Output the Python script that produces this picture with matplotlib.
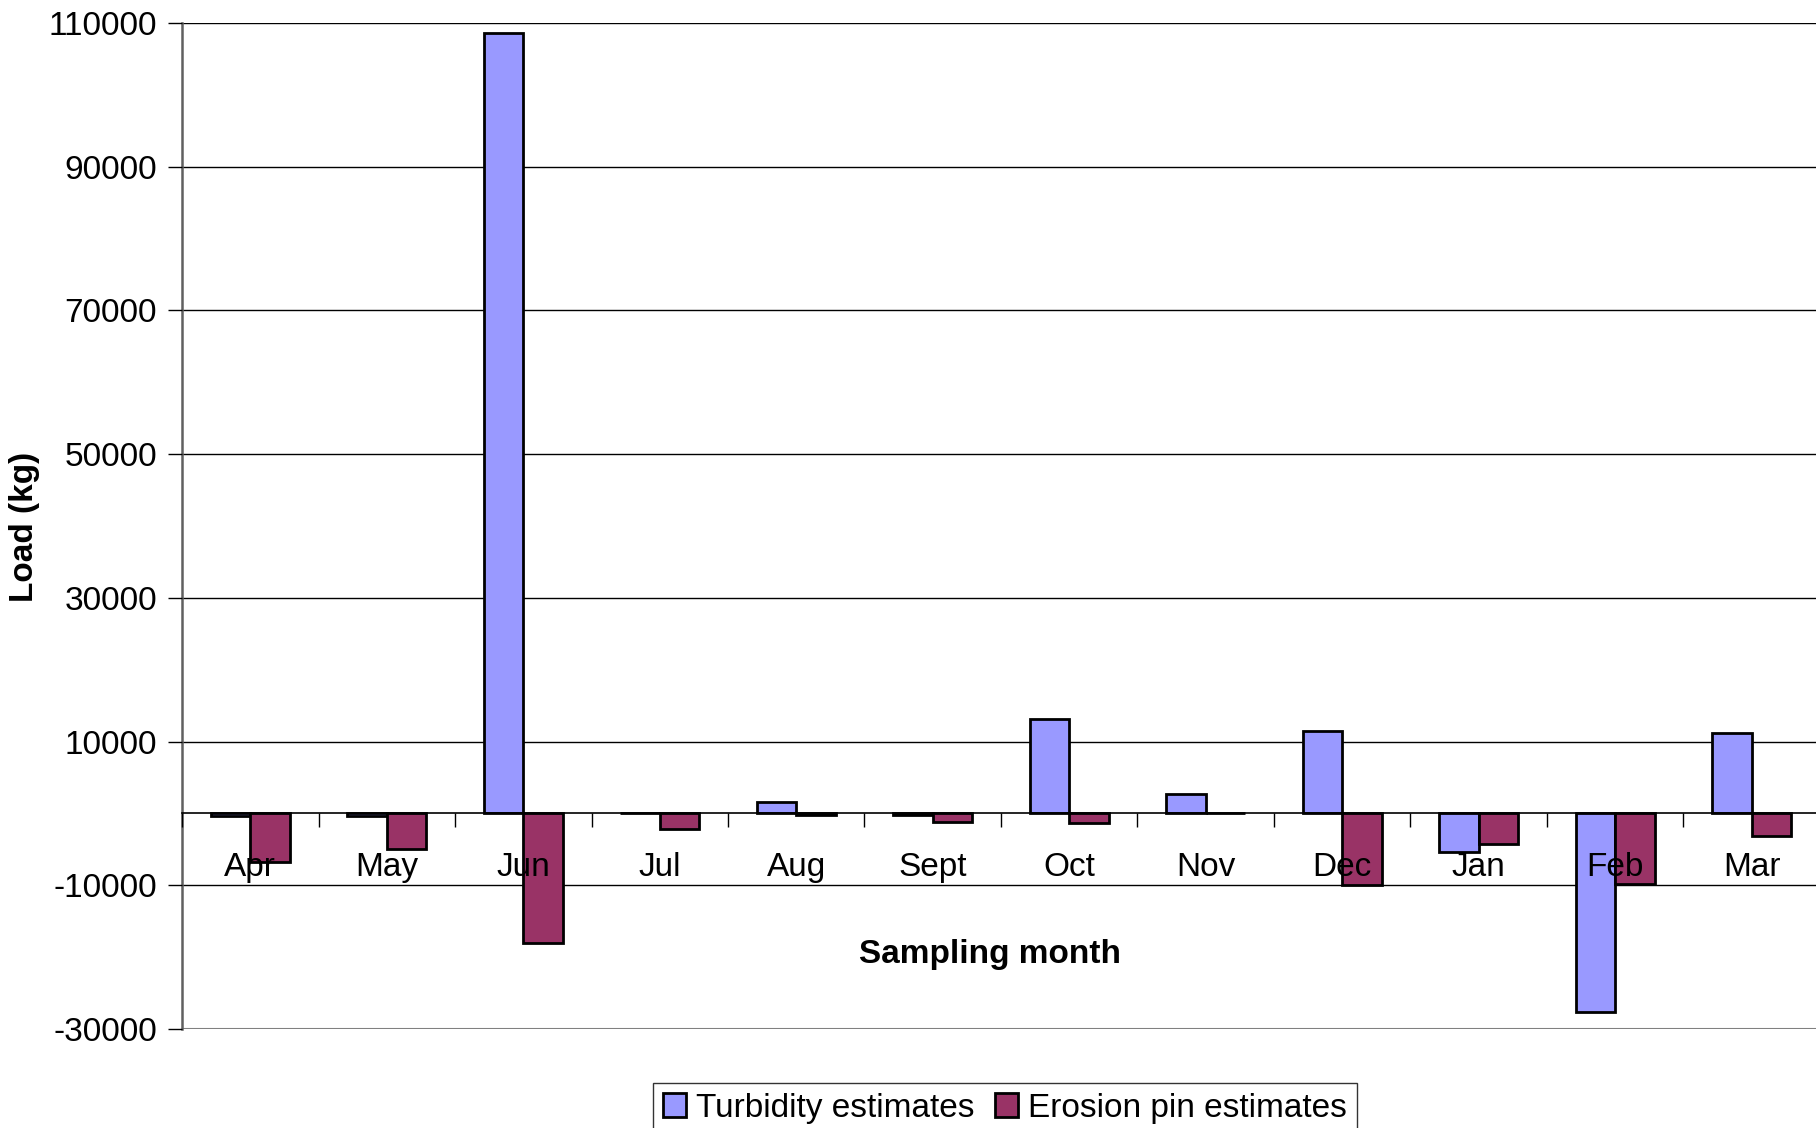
import matplotlib.pyplot as plt
import numpy as np

plt.rcParams['font.family'] = ['Liberation Sans', 'DejaVu Sans']

# datos
meses = ['Apr', 'May', 'Jun', 'Jul', 'Aug', 'Sept', 'Oct', 'Nov', 'Dec', 'Jan', 'Feb', 'Mar']
turbidez = [-300, -300, 108600, 100, 1600, -200, 13200, 2700, 11500, -5300, -27600, 11200]
erosion = [-6700, -4900, -18000, -2200, -200, -1250, -1300, 0, -9900, -4200, -9800, -3200]
ticks_y = [-30000, -10000, 10000, 30000, 50000, 70000, 90000, 110000]

fs = 24

fig = plt.figure(figsize=(18.16, 11.28), dpi=100)
ax = fig.add_axes([182/1816, 1 - 1029/1128, 1638/1816, (1029 - 23)/1128])
ax.set_axisbelow(False)

x = np.arange(len(meses))
ancho = 0.29
ax.bar(x - ancho, turbidez, ancho, align='edge', color='#9999FF', edgecolor='black',
       linewidth=2, label='Turbidity estimates', zorder=2)
ax.bar(x, erosion, ancho, align='edge', color='#993366', edgecolor='black',
       linewidth=2, label='Erosion pin estimates', zorder=2)

ax.set_xlim(-0.5, len(meses) - 0.5)
ax.set_ylim(-30000, 110000)
ax.set_yticks(ticks_y)
ax.set_yticklabels([str(t) for t in ticks_y], fontsize=fs)
ax.tick_params(axis='y', direction='out', length=10, width=1, pad=8)

# lineas de cuadricula
for t in ticks_y[1:]:
    ax.axhline(t, color='black', linewidth=1, zorder=1)

# eje de categorias en cero
ax.spines['bottom'].set_position(('data', 0))
ax.spines['bottom'].set_color('black')
ax.spines['bottom'].set_linewidth(1.2)
ax.set_xticks(x)
ax.set_xticklabels(meses, fontsize=fs)
ax.tick_params(axis='x', which='major', length=0, pad=28)
ax.set_xticks(np.arange(-0.5, len(meses) - 0.4, 1), minor=True)
ax.tick_params(axis='x', which='minor', direction='out', length=10, width=1, color='black')

ax.axhline(-30000, color='#808080', linewidth=1.5, zorder=1)
ax.spines['top'].set_visible(False)
ax.spines['right'].set_visible(False)
ax.spines['left'].set_color('#606060')
ax.spines['left'].set_linewidth(1.8)

fig.text(990/1816, 1 - 955/1128, 'Sampling month', fontsize=fs, fontweight='bold',
         ha='center', va='center')
fig.text(25/1816, 1 - 527/1128, 'Load (kg)', fontsize=fs, fontweight='bold',
         rotation=90, ha='center', va='center')

leg = fig.legend(loc='center', bbox_to_anchor=(1005/1816, 1 - 1108/1128), ncol=2,
                 fontsize=fs, frameon=True, fancybox=False, handlelength=0.7,
                 handleheight=0.7, handletextpad=0.3, columnspacing=0.6,
                 borderpad=0.3, borderaxespad=0)
leg.get_frame().set_edgecolor('black')
leg.get_frame().set_linewidth(1)

fig.savefig('out.png', dpi=100)
